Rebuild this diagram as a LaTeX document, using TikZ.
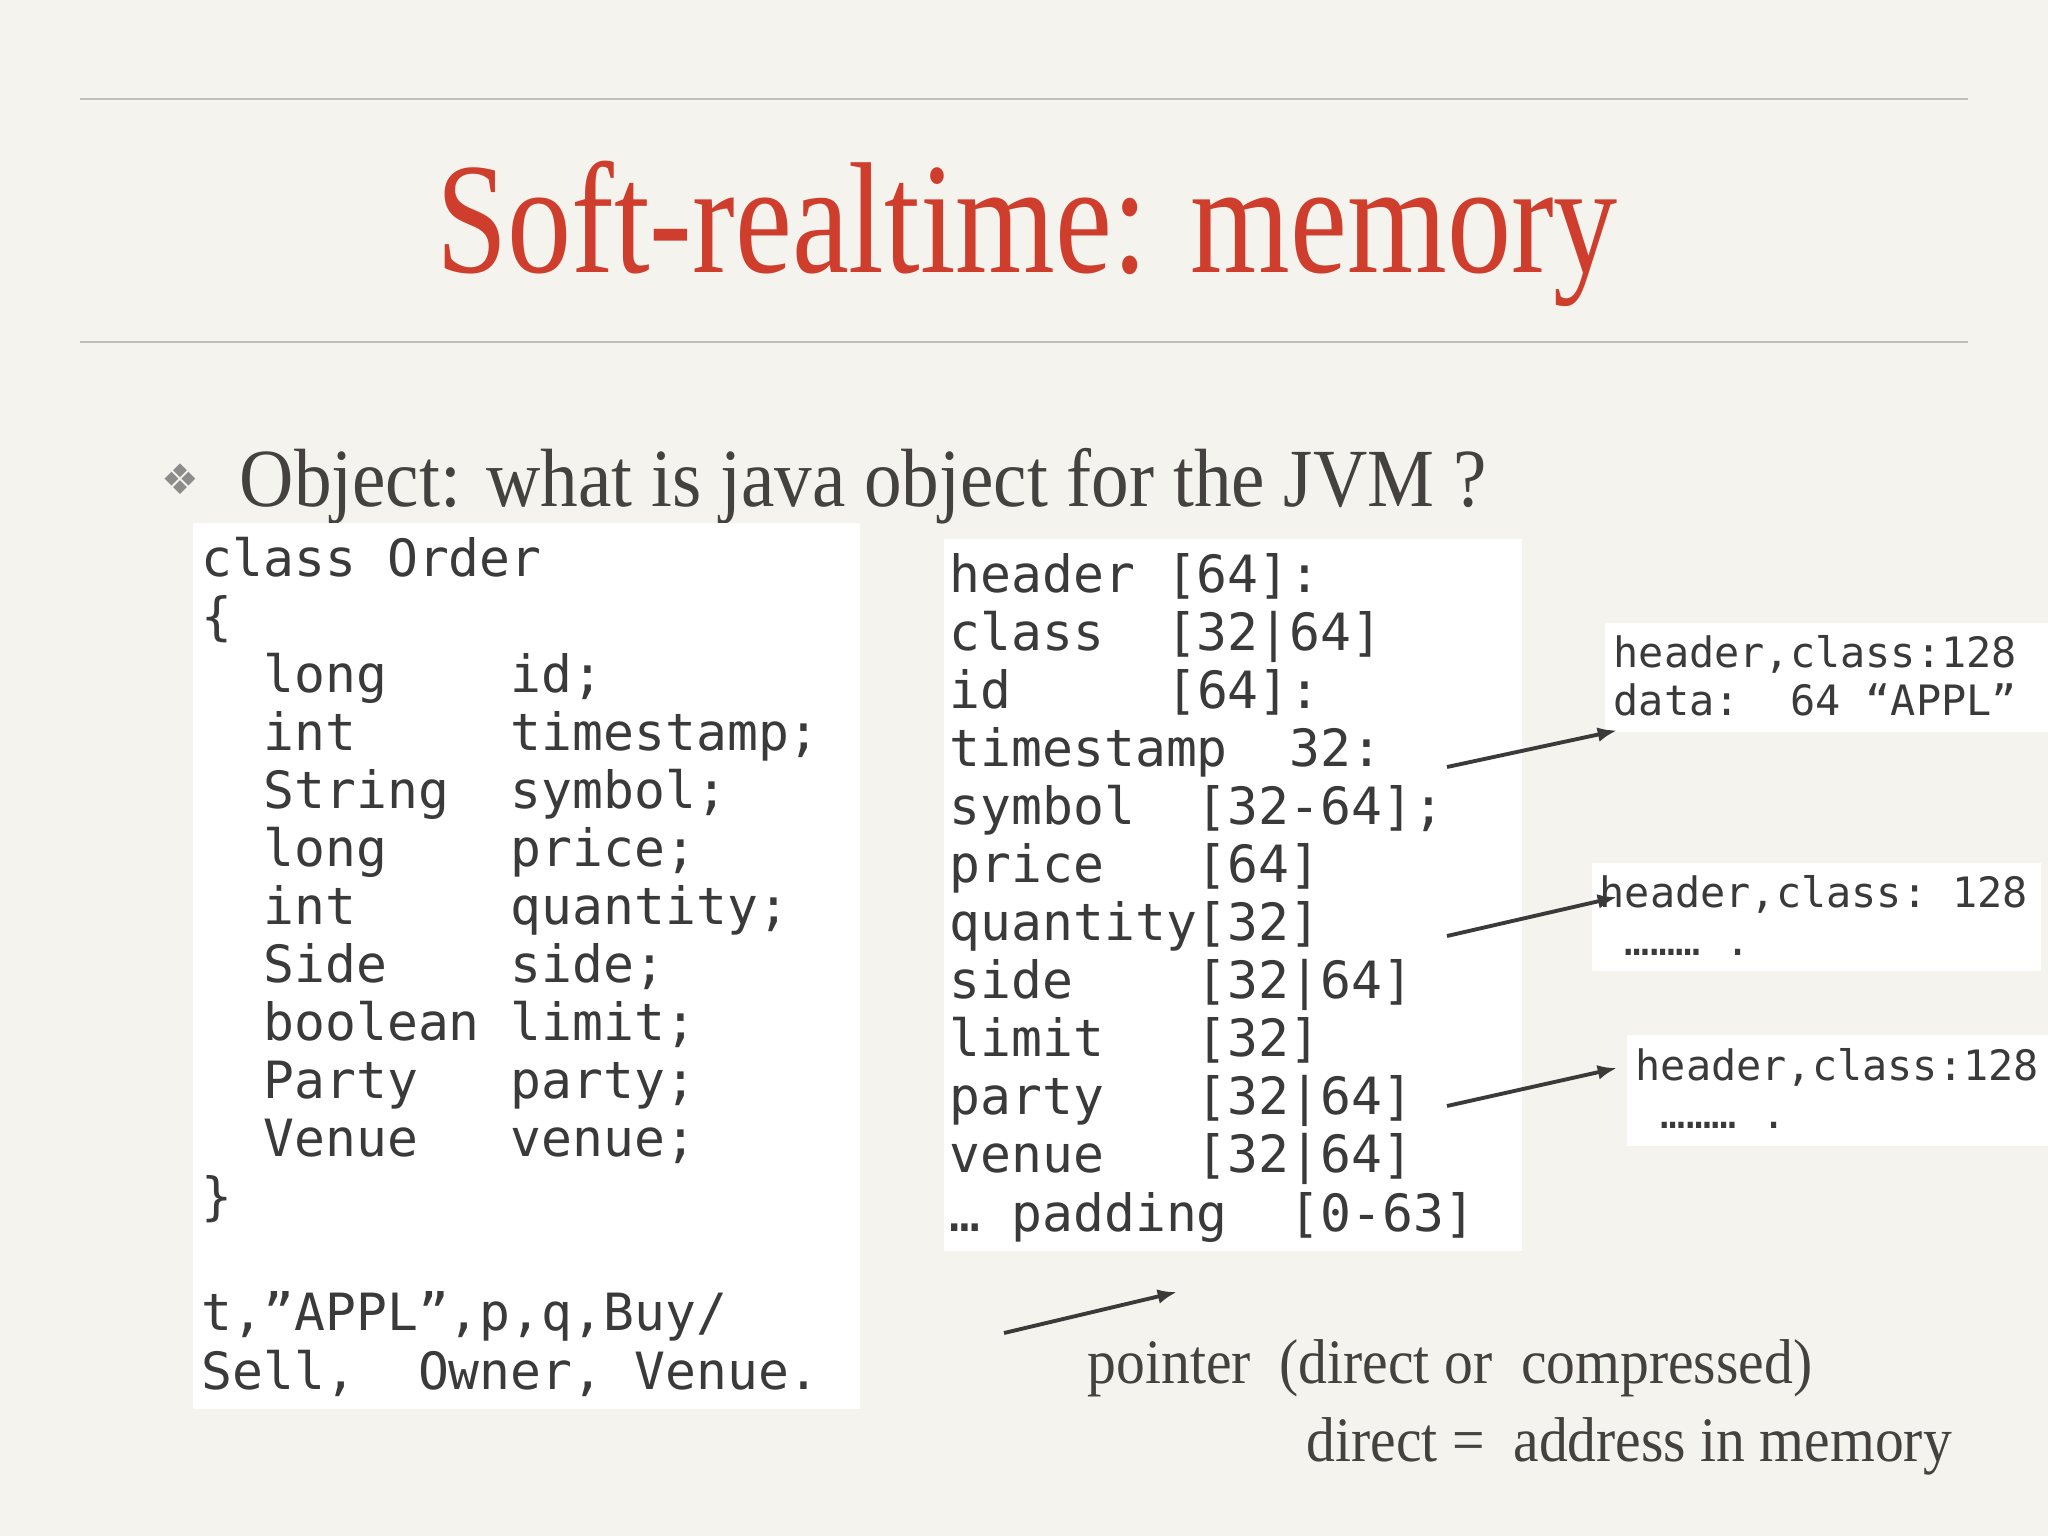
\documentclass[tikz,border=0pt]{standalone}
\usepackage{fontspec}
\setmainfont{Liberation Serif}
\newfontfamily\codefont{DejaVu Sans Mono}
\newfontfamily\titlefont[FakeStretch=0.81]{Liberation Serif}
\newfontfamily\bodyfont[FakeStretch=0.91]{Liberation Serif}
\newfontfamily\symfont{DejaVu Sans}
\usetikzlibrary{arrows.meta,calc}
\definecolor{slidebg}{RGB}{245,243,238}
\definecolor{rulegray}{RGB}{192,190,184}
\definecolor{titlered}{RGB}{207,62,44}
\definecolor{bodygray}{RGB}{68,65,62}
\definecolor{codegray}{RGB}{58,58,58}
\definecolor{bulletgray}{RGB}{140,140,138}
\tikzset{
  memobox/.style={fill=white, inner sep=0, anchor=north west},
  codetext/.style={anchor=base west, align=left, inner sep=0, text=codegray,
    font=\codefont\fontsize{14.6}{16.5}\selectfont},
  smallcode/.style={anchor=base west, align=left, inner sep=0, text=codegray,
    font=\codefont\fontsize{11.9}{13.4}\selectfont},
  ptr/.style={-{Latex[length=5.5pt,width=4.2pt]}, line width=1.1pt, draw=codegray}
}
\begin{document}
\begin{tikzpicture}[x=0.01cm, y=-0.01cm]
  \useasboundingbox (0,0) rectangle (2048,1536);
  \fill[slidebg] (0,0) rectangle (2048,1536);
  \draw[rulegray, line width=0.6pt] (80,99) -- (1968,99);
  \draw[rulegray, line width=0.6pt] (80,342) -- (1968,342);

  \node[anchor=base, inner sep=0, text=titlered, font=\titlefont\fontsize{45}{50}\selectfont] (title) at (1027,272) {Soft-realtime: memory};
  \node[inner sep=0, text=bulletgray, font=\symfont\fontsize{12}{12}\selectfont] (bullet) at (180,479) {❖};
  \node[anchor=base west, inner sep=0, text=bodygray, font=\bodyfont\fontsize{23.5}{28}\selectfont] (question) at (239,506) {Object: what is java object for the JVM ?};

  % java source (base = last line)
  \node[memobox, minimum width=6.67cm, minimum height=8.86cm] (decl) at (192,522) {};
  \node[codetext] (declcode) at (201,1389) {class Order\\
    \{\\
    ~~long~~~~id;\\
    ~~int~~~~~timestamp;\\
    ~~String~~symbol;\\
    ~~long~~~~price;\\
    ~~int~~~~~quantity;\\
    ~~Side~~~~side;\\
    ~~boolean~limit;\\
    ~~Party~~~party;\\
    ~~Venue~~~venue;\\
    \}\\[16.5pt]
    t,”APPL”,p,q,Buy/\\
    Sell,~~Owner,~Venue.};

  % object layout
  \node[memobox, minimum width=5.78cm, minimum height=7.12cm] (layout) at (943,538) {};
  \node[codetext] (layoutcode) at (949,1231) {header~[64]:\\
    class~~[32|64]\\
    id~~~~~[64]:\\
    timestamp~~32:\\
    symbol~~[32-64];\\
    price~~~[64]\\
    quantity[32]\\
    side~~~~[32|64]\\
    limit~~~[32]\\
    party~~~[32|64]\\
    venue~~~[32|64]\\
    …~padding~~[0-63]};

  % referenced objects
  \node[memobox, minimum width=4.44cm, minimum height=1.09cm] (hdrA) at (1604,622) {};
  \node[smallcode] (hdrAtext) at (1613,715) {header,class:128\\data:~~64~“APPL”};
  \node[memobox, minimum width=4.49cm, minimum height=1.08cm] (hdrB) at (1591,862) {};
  \node[smallcode] (hdrBtext) at (1599,955) {header,class:~128\\~………~.};
  \node[memobox, minimum width=4.22cm, minimum height=1.11cm] (hdrC) at (1626,1034) {};
  \node[smallcode] (hdrCtext) at (1635,1128) {header,class:128\\~………~.};

  \coordinate (symtail) at (1447,767);
  \coordinate (partytail) at (1447,936);
  \coordinate (venuetail) at (1447,1106);
  \coordinate (ptrtail) at (1004,1333);
  \coordinate (ptrtip) at (1177,1292);
  \draw[ptr] (symtail) -- ($(hdrA.south west)+(13,-2)$);
  \draw[ptr] (partytail) -- ($(hdrB.north west)+(26,35)$);
  \draw[ptr] (venuetail) -- ($(hdrC.north west)+(-9,34)$);
  \draw[ptr] (ptrtail) -- (ptrtip);

  \node[anchor=base west, inner sep=0, text=bodygray, font=\bodyfont\fontsize{18}{22}\selectfont] (pointer) at (1087,1383) {pointer\ \ (direct or\ \ compressed)};
  \node[anchor=base west, inner sep=0, text=bodygray, font=\bodyfont\fontsize{18}{22}\selectfont] (direct) at (1306,1461) {direct =\ \ address in memory};
\end{tikzpicture}
\end{document}
